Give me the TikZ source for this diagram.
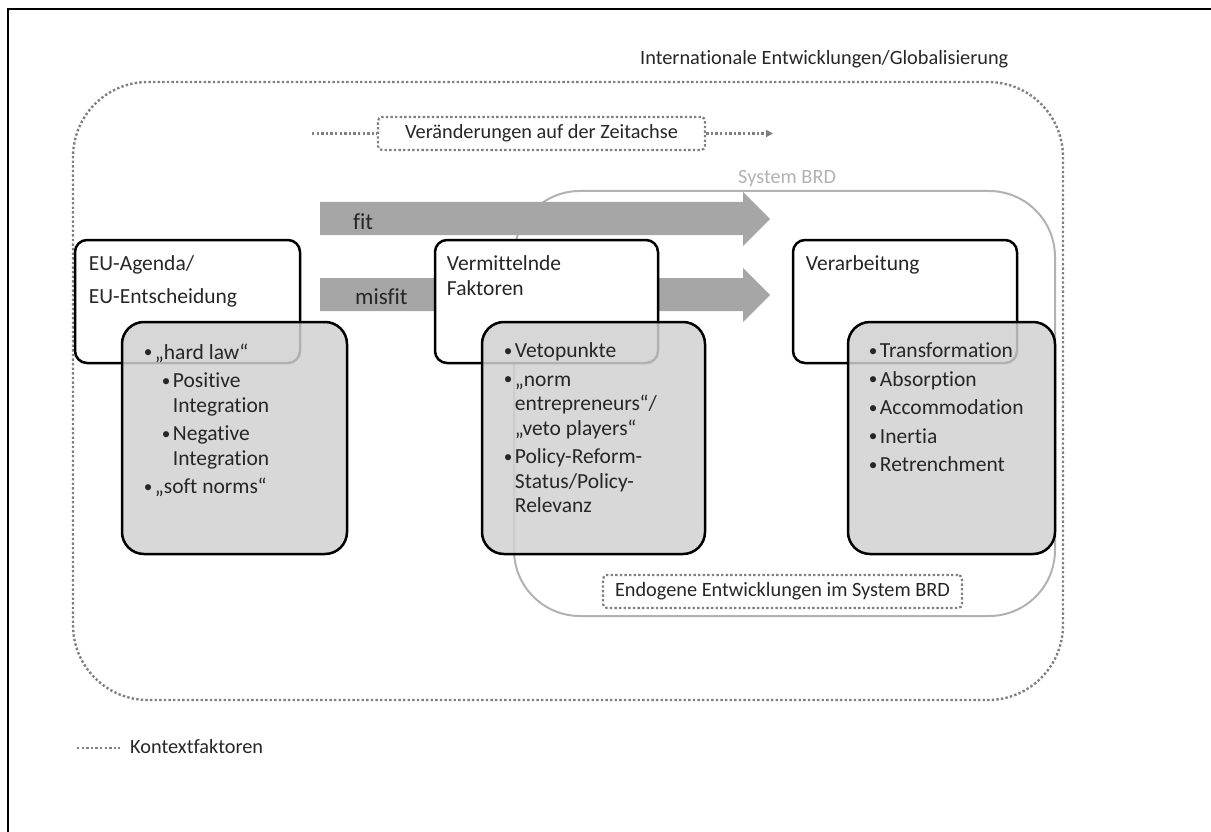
\documentclass[tikz,border=0pt]{standalone}
\usepackage{graphicx}
\usepackage{fontspec}
\setmainfont{Carlito}[Ligatures=NoCommon]
\usetikzlibrary{arrows.meta,positioning}

\newcommand{\bul}{\makebox[11pt][l]{\raisebox{1.5pt}{\scalebox{0.8}{\textbullet}}}}
\newcommand{\ind}{\hspace*{11pt}}
\newcommand{\subind}{\hspace*{18pt}}

\begin{document}
\begin{tikzpicture}[
  x=1pt, y=-1pt,
  font=\fontsize{20.3}{24}\selectfont,
  every node/.style={inner sep=0pt, text=black!85},
  ctx/.style={draw=black!50, line width=2.4pt, dash pattern=on 2.4pt off 2.2pt},
  ctxbox/.style={ctx, line width=2.2pt, rounded corners=4pt},
  sysbox/.style={draw=black!30, line width=2pt, rounded corners=66pt},
  whitebox/.style={draw, fill=white, line width=2.5pt, rounded corners=12pt, minimum height=123pt},
  graybox/.style={draw, line width=2.5pt, fill=black!18, fill opacity=0.85, rounded corners=22pt, minimum height=232pt},
  boxtext/.style={align=left, font=\fontsize{21.5}{24.5}\selectfont},
  bigarrow/.style={fill=black!35},
  arrowlabel/.style={anchor=west, font=\fontsize{23}{26}\selectfont}
]
\useasboundingbox (0,0) rectangle (1211,832);
\draw[line width=2.5pt] (8,832) -- (8,9) -- (1211,9);

\node[ctx, rounded corners=75pt, minimum width=990pt, minimum height=618pt] (kontext) at (568,391) {};
\node[anchor=base west] (intl) at (640,65) {Internationale Entwicklungen/Globalisierung};

\node[ctxbox, minimum width=327pt, minimum height=33pt] (zeit) at (541.5,133.5) {Veränderungen auf der Zeitachse};
\coordinate (zeitstart) at (312,133.5);
\coordinate (zeitend) at (773,133.5);
\draw[ctx, line width=2.2pt] (zeitstart) -- (zeit.west);
\draw[ctx, line width=2.2pt, -{Triangle[length=7pt,width=7pt]}] (zeit.east) -- (zeitend);

\node[sysbox, minimum width=541pt, minimum height=425pt] (brd) at (784.5,403.5) {};
\node[anchor=base west, text=black!30] (brdlabel) at (738,184) {System BRD};

\fill[bigarrow] (320,202) -- (743,202) -- (743,192) -- (770,219) -- (743,246) -- (743,235) -- (320,235) -- cycle;
\fill[bigarrow] (320,278) -- (743,278) -- (743,268) -- (770,295) -- (743,322) -- (743,311) -- (320,311) -- cycle;
\node[arrowlabel] (fit) at (353,222) {fit};
\node[arrowlabel] (misfit) at (355,297) {misfit};

\node[whitebox, minimum width=225pt] (eu) at (187.5,301.5) {};
\node[whitebox, minimum width=223pt] (verm) at (546.5,301.5) {};
\node[whitebox, minimum width=224pt] (verarb) at (905,301.5) {};

\node[graybox, minimum width=225pt] (eulist) at (234.5,438) {};
\node[graybox, minimum width=223pt] (vermlist) at (593.5,438) {};
\node[graybox, minimum width=207pt] (verarblist) at (951.5,438) {};

\node[boxtext, below right=17pt and 15pt of eu.north west] (eutxt) {EU-Agenda/\\[8.5pt]EU-Entscheidung};
\node[boxtext, below right=17pt and 13pt of verm.north west] (vermtxt) {Vermittelnde\\Faktoren};
\node[boxtext, below right=17pt and 14pt of verarb.north west] (verarbtxt) {Verarbeitung};

\node[boxtext, below right=23pt and 23pt of eulist.north west] (euitems) {\bul„hard law“\\[4pt]
\subind\bul Positive\\
\subind\ind Integration\\[4pt]
\subind\bul Negative\\
\subind\ind Integration\\[4pt]
\bul„soft norms“};
\node[boxtext, below right=22pt and 23pt of vermlist.north west] (vermitems) {\bul Vetopunkte\\[4pt]
\bul„norm\\
\ind entrepreneurs“/\\
\ind„veto players“\\[4pt]
\bul Policy-Reform-\\
\ind Status/Policy-\\
\ind Relevanz};
\node[boxtext, below right=22pt and 22pt of verarblist.north west] (verarbitems) {\bul Transformation\\[4pt]
\bul Absorption\\[4pt]
\bul Accommodation\\[4pt]
\bul Inertia\\[4pt]
\bul Retrenchment};

\node[ctxbox, minimum width=359pt, minimum height=33pt] (endo) at (782.5,591.5) {Endogene Entwicklungen im System BRD};

\coordinate (legstart) at (77,748);
\coordinate (legend) at (120,748);
\draw[ctx, line width=2pt] (legstart) -- (legend);
\node[anchor=west] (legtext) at (130,747) {Kontextfaktoren};
\end{tikzpicture}
\end{document}
